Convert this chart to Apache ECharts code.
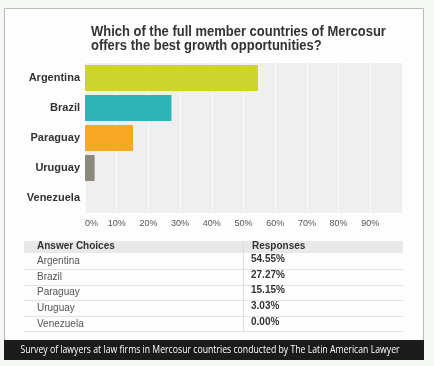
<!DOCTYPE html>
<html>
<head>
<meta charset="utf-8">
<script src="https://cdn.jsdelivr.net/npm/echarts@6/dist/echarts.min.js"></script>
<style>
html,body{margin:0;padding:0;background:#f4f7f4;}
#c{width:434px;height:366px;}
</style>
</head>
<body>
<div id="c"></div>
<script>
const titleLines = ['Which of the full member countries of Mercosur', 'offers the best growth opportunities?'];
const categories = ['Argentina', 'Brazil', 'Paraguay', 'Uruguay', 'Venezuela'];
const responses = [54.55, 27.27, 15.15, 3.03, 0.00];
const tickValues = [0, 10, 20, 30, 40, 50, 60, 70, 80, 90];
const tableHeaders = ['Answer Choices', 'Responses'];
const footerText = 'Survey of lawyers at law firms in Mercosur countries conducted by The Latin American Lawyer';

const barColors = ['#cdd42b', '#2db5ba', '#f7a824', '#8b8a7d', '#999999'];
const FONT = '"Liberation Sans", Arial, sans-serif';

const chart = echarts.init(document.getElementById('c'), null, {renderer: 'canvas'});

const graphics = [];
// outer box
graphics.push({type: 'rect', z: -10, shape: {x: 4.5, y: 8.5, width: 419, height: 332}, style: {fill: '#fcfdfc', stroke: '#b9bdb9', lineWidth: 1}});
// title
titleLines.forEach((t, i) => {
  graphics.push({type: 'text', z: 10, x: 91, y: 32 + i * 14, scaleX: 0.865, style: {text: t, font: 'bold 15px ' + FONT, fill: '#333333', textVerticalAlign: 'middle'}});
});
// table
const tx0 = 24, tx1 = 403, colX = 243;
const headerY0 = 241, headerY1 = 253;
graphics.push({type: 'rect', z: 5, shape: {x: tx0, y: headerY0, width: tx1 - tx0, height: headerY1 - headerY0}, style: {fill: '#e8e8e8'}});
graphics.push({type: 'text', z: 10, x: 37, y: 246.5, style: {text: tableHeaders[0], font: 'bold 10px ' + FONT, fill: '#333', textVerticalAlign: 'middle'}});
graphics.push({type: 'text', z: 10, x: 252, y: 246.5, style: {text: tableHeaders[1], font: 'bold 10px ' + FONT, fill: '#333', textVerticalAlign: 'middle'}});
const rowH = 15.6;
categories.forEach((c, i) => {
  const yc = 261.5 + i * rowH;
  graphics.push({type: 'text', z: 10, x: 37, y: yc, style: {text: c, font: '10px ' + FONT, fill: '#555', textVerticalAlign: 'middle'}});
  graphics.push({type: 'text', z: 10, x: 251, y: yc - 2, style: {text: responses[i].toFixed(2) + '%', font: 'bold 10px ' + FONT, fill: '#333', textVerticalAlign: 'middle'}});
  const ly = Math.round(269 + i * rowH) + 0.5;
  graphics.push({type: 'line', z: 6, shape: {x1: tx0, y1: ly, x2: tx1, y2: ly}, style: {stroke: '#e2e2e2', lineWidth: 1}});
});
graphics.push({type: 'line', z: 6, shape: {x1: colX + 0.5, y1: headerY0, x2: colX + 0.5, y2: 331}, style: {stroke: '#dddddd', lineWidth: 1}});
// footer
graphics.push({type: 'rect', z: 5, shape: {x: 4, y: 340, width: 420, height: 20}, style: {fill: '#1b1b1b'}});
graphics.push({type: 'text', z: 10, x: 210, y: 350, scaleX: 0.79, style: {text: footerText, font: '11px "Open Sans", sans-serif', fill: '#ffffff', textAlign: 'center', textVerticalAlign: 'middle'}});

chart.setOption({
  animation: false,
  backgroundColor: '#f4f7f4',
  grid: {left: 85, right: 32, top: 63, height: 150, show: true, backgroundColor: '#efefef', borderWidth: 0, containLabel: false},
  xAxis: {
    type: 'value', min: 0, max: 100, interval: 10,
    axisLine: {show: false}, axisTick: {show: false},
    splitLine: {show: true, lineStyle: {color: '#fafafa', width: 1}},
    axisLabel: {
      margin: 6, fontSize: 9, color: '#555', fontFamily: FONT,
      alignMinLabel: 'left',
      formatter: v => tickValues.indexOf(v) >= 0 ? v + '%' : ''
    }
  },
  yAxis: {
    type: 'category', data: categories, inverse: true,
    axisLine: {show: false}, axisTick: {show: false}, splitLine: {show: false},
    axisLabel: {margin: 5, fontSize: 11, fontWeight: 'bold', color: '#333', fontFamily: FONT}
  },
  series: [{
    type: 'bar', barWidth: 26,
    data: responses.map((v, i) => ({value: v, itemStyle: {color: barColors[i]}}))
  }],
  graphic: graphics
});
</script>
</body>
</html>
